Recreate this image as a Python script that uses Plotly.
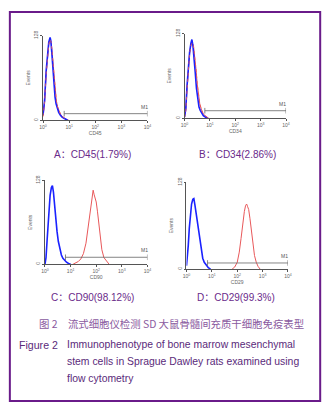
import plotly.graph_objects as go

# ---------------- data (log10 fluorescence, event counts) ----------------
panel_labels = ["A：CD45(1.79%)", "B：CD34(2.86%)", "C：CD90(98.12%)", "D：CD29(99.3%)"]
marker_names = ["CD45", "CD34", "CD90", "CD29"]

a_blue_x = [0.0, 0.06, 0.12, 0.17, 0.22, 0.27, 0.30, 0.34, 0.38, 0.42, 0.46, 0.50, 0.55, 0.60, 0.66, 0.72, 0.80, 0.88, 0.95]
a_blue_y = [8, 30, 75, 100, 118, 125, 120, 100, 75, 52, 35, 25, 18, 12, 8, 5, 3, 1, 0]
a_red_x = [0.0, 0.06, 0.12, 0.17, 0.22, 0.27, 0.31, 0.35, 0.39, 0.43, 0.47, 0.51, 0.56, 0.61, 0.67, 0.73, 0.81, 0.90, 0.98]
a_red_y = [6, 28, 70, 98, 115, 122, 118, 102, 80, 58, 40, 29, 20, 14, 9, 6, 3, 1, 0]

b_blue_x = [0.0, 0.05, 0.10, 0.15, 0.20, 0.25, 0.29, 0.33, 0.37, 0.42, 0.47, 0.52, 0.57, 0.62, 0.68, 0.74, 0.82, 0.90]
b_blue_y = [2, 15, 50, 80, 100, 113, 119, 110, 95, 70, 45, 28, 17, 12, 7, 4, 2, 0]
b_red_x = [0.0, 0.05, 0.10, 0.15, 0.20, 0.25, 0.30, 0.35, 0.40, 0.45, 0.50, 0.55, 0.60, 0.66, 0.72, 0.80, 0.88, 0.96]
b_red_y = [1, 12, 45, 78, 98, 110, 114, 110, 96, 75, 52, 34, 22, 14, 8, 4, 2, 0]

c_blue_x = [0.0, 0.04, 0.08, 0.12, 0.16, 0.20, 0.25, 0.29, 0.33, 0.37, 0.42, 0.47, 0.52, 0.58, 0.64, 0.70, 0.76, 0.84, 0.92, 1.0]
c_blue_y = [0, 10, 35, 60, 85, 105, 117, 120, 110, 90, 68, 50, 35, 22, 14, 9, 6, 3, 1, 0]
c_red_x = [1.10, 1.20, 1.30, 1.40, 1.50, 1.60, 1.68, 1.75, 1.82, 1.88, 1.92, 1.96, 2.00, 2.05, 2.10, 2.16, 2.22, 2.30, 2.40, 2.50]
c_red_y = [0, 2, 4, 8, 16, 32, 55, 80, 102, 113, 106, 101, 95, 80, 60, 40, 22, 10, 4, 0]

d_blue_x = [0.0, 0.03, 0.07, 0.11, 0.15, 0.20, 0.25, 0.29, 0.33, 0.38, 0.43, 0.48, 0.53, 0.58, 0.64, 0.70, 0.78, 0.86, 0.95]
d_blue_y = [5, 15, 35, 60, 80, 96, 103, 104, 95, 82, 68, 52, 38, 26, 16, 10, 5, 2, 0]
d_red_x = [1.80, 1.90, 2.00, 2.08, 2.15, 2.22, 2.28, 2.33, 2.37, 2.41, 2.45, 2.50, 2.56, 2.62, 2.68, 2.75, 2.82, 2.90]
d_red_y = [0, 3, 10, 25, 45, 68, 85, 94, 96, 92, 88, 75, 55, 35, 20, 10, 4, 0]

# M1 gate: start (log10), end (log10), level (events)
m1_start = [0.81, 0.80, 0.80, 0.83]
m1_end = [4.0, 4.0, 4.0, 4.0]
m1_level = [10, 11.5, 10.5, 9]

x_tick_exps = [0, 1, 2, 3, 4]
y_max = 128

blue_x = [a_blue_x, b_blue_x, c_blue_x, d_blue_x]
blue_y = [a_blue_y, b_blue_y, c_blue_y, d_blue_y]
red_x = [a_red_x, b_red_x, c_red_x, d_red_x]
red_y = [a_red_y, b_red_y, c_red_y, d_red_y]

# ---------------- layout geometry (pixels) ----------------
W, H = 332, 409
panels_px = [(40, 147, 31, 117), (185, 289, 29, 115), (42, 147, 178, 263), (187, 291, 180, 268)]
caption_px = [(91, 152), (239, 152), (91, 297), (238, 297)]

purple = "#6a2a8a"
latin = "Liberation Sans, Arial, Noto Sans CJK SC"
cjk = "Noto Sans CJK SC, Liberation Sans"

fig = go.Figure()
layout = dict(width=W, height=H, margin=dict(l=0, r=0, t=0, b=0),
              paper_bgcolor="white", plot_bgcolor="white", showlegend=False)
annotations = []
shapes = []

for i in range(4):
    xa = "x" if i == 0 else f"x{i+1}"
    ya = "y" if i == 0 else f"y{i+1}"
    x0, x1, y0, y1 = panels_px[i]
    dom_x = [x0 / W, x1 / W]
    dom_y = [1 - y1 / H, 1 - y0 / H]
    layout["xaxis" if i == 0 else f"xaxis{i+1}"] = dict(
        domain=dom_x, anchor=ya, type="log", range=[0, 4],
        tickvals=[10 ** e for e in x_tick_exps],
        ticktext=[f"10<sup>{e}</sup>" for e in x_tick_exps],
        ticks="outside", ticklen=2, tickwidth=0.6, tickcolor="#555",
        showline=True, linecolor="#555", linewidth=0.8, showgrid=False, zeroline=False,
        tickfont=dict(size=5, color="#666", family=latin),
        title=dict(text=marker_names[i], font=dict(size=5, color="#666", family=latin), standoff=2),
    )
    layout["yaxis" if i == 0 else f"yaxis{i+1}"] = dict(
        domain=dom_y, anchor=xa, range=[0, y_max],
        tickvals=[0, y_max], ticktext=["0", str(y_max)], tickangle=-90,
        ticks="outside", ticklen=2, tickwidth=0.6, tickcolor="#555",
        showline=True, linecolor="#555", linewidth=0.8, showgrid=False, zeroline=False,
        tickfont=dict(size=5, color="#666", family=latin),
        title=dict(text="Events", font=dict(size=5, color="#666", family=latin), standoff=2),
    )
    fig.add_trace(go.Scatter(x=[10 ** v for v in red_x[i]], y=red_y[i], mode="lines",
                             line=dict(color="#e8585a", width=1), xaxis=xa, yaxis=ya))
    fig.add_trace(go.Scatter(x=[10 ** v for v in blue_x[i]], y=blue_y[i], mode="lines",
                             line=dict(color="#1a22ff", width=1.6), xaxis=xa, yaxis=ya))
    if i in (0, 1):
        fig.add_trace(go.Scatter(x=[10 ** v for v in red_x[i]], y=red_y[i], mode="lines",
                                 line=dict(color="#e8585a", width=0.8, dash="dot"), xaxis=xa, yaxis=ya))
    # M1 gate
    fig.add_trace(go.Scatter(x=[10 ** m1_start[i], 10 ** m1_end[i]], y=[m1_level[i], m1_level[i]],
                             mode="lines+markers", line=dict(color="#666", width=0.8),
                             marker=dict(symbol="line-ns", size=4, line=dict(color="#666", width=0.8)),
                             xaxis=xa, yaxis=ya))
    annotations.append(dict(x=3.88, y=m1_level[i] + 3, xref=xa, yref=ya, text="M1",
                            showarrow=False, yanchor="bottom", font=dict(size=5, color="#555", family=latin)))
    cx, cy = caption_px[i]
    annotations.append(dict(x=cx / W, y=1 - cy / H, xref="paper", yref="paper", text=panel_labels[i],
                            showarrow=False, xanchor="center", yanchor="middle",
                            font=dict(size=10, color=purple, family=latin)))

# figure captions
annotations.append(dict(x=34 / W, y=1 - 323 / H, xref="paper", yref="paper",
                        text="图 2　流式细胞仪检测 SD 大鼠骨髓间充质干细胞免疫表型",
                        showarrow=False, xanchor="left", yanchor="middle",
                        font=dict(size=10.4, color="#8a5aa0", family=cjk)))
annotations.append(dict(x=13 / W, y=1 - 345 / H, xref="paper", yref="paper", text="Figure 2",
                        showarrow=False, xanchor="left", yanchor="middle",
                        font=dict(size=10.6, color="#5a2a7a", family=latin)))
eng_lines = ["Immunophenotype of bone marrow mesenchymal",
             "stem cells in Sprague Dawley rats examined using",
             "flow cytometry"]
for k, t in enumerate(eng_lines):
    annotations.append(dict(x=62 / W, y=1 - (345 + 17 * k) / H, xref="paper", yref="paper", text=t,
                            showarrow=False, xanchor="left", yanchor="middle",
                            font=dict(size=10.4, color="#5a2a7a", family=latin)))

shapes.append(dict(type="rect", xref="paper", yref="paper",
                   x0=6 / W, x1=324 / W, y0=1 - 402 / H, y1=1 - 7 / H,
                   line=dict(color="#6a1b8a", width=2)))

layout["annotations"] = annotations
layout["shapes"] = shapes
fig.update_layout(**layout)
fig.write_html("out.html", config={"displayModeBar": False},
               post_script="document.body.style.margin='0';document.body.style.padding='0';")
